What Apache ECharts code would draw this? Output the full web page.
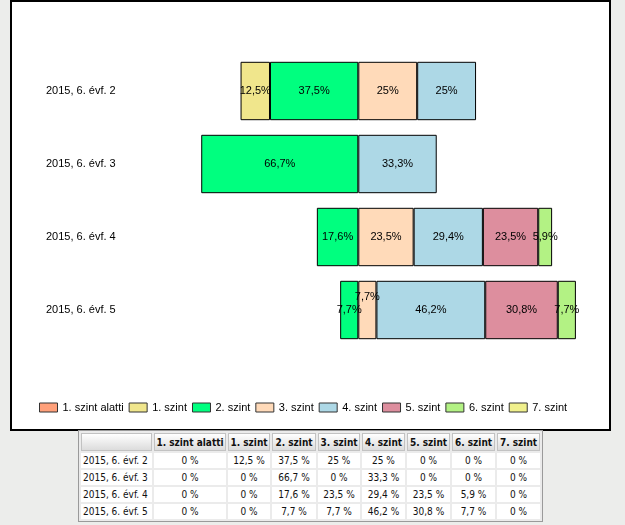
<!DOCTYPE html>
<html>
<head>
<meta charset="utf-8">
<script src="https://cdn.jsdelivr.net/npm/echarts@6/dist/echarts.min.js"></script>
<style>
body { margin: 0; background: #ecedeb; width: 625px; height: 525px; overflow: hidden; position: relative; }
#frame { position: absolute; left: 10px; top: 0; width: 597px; height: 427px; border: 2px solid #000; background: #fff; }
#container { width: 597px; height: 427px; }
#tbl {
    position: absolute; left: 78px; top: 430px;
    border: 1px solid #9a9a9a; background: #ebebeb;
    border-spacing: 2px; table-layout: fixed;
    font-family: "DejaVu Sans", sans-serif; font-stretch: condensed; font-size: 10px; color: #111;
}
#tbl th {
    height: 16px; padding: 0; border: 1px solid #c2c2c2;
    background: linear-gradient(#ffffff, #dcdcdc); font-weight: bold; white-space: nowrap;
}
#tbl td { height: 15px; padding: 0 2px; background: #fff; text-align: center; white-space: nowrap; }
#tbl td.cat { text-align: left; }
</style>
</head>
<body>
<div id="frame"><div id="container"></div></div>
<table id="tbl"></table>

<script>
// chart data
let categories = ['2015, 6. évf. 2', '2015, 6. évf. 3', '2015, 6. évf. 4', '2015, 6. évf. 5']
let levels = ['1. szint alatti', '1. szint', '2. szint', '3. szint', '4. szint', '5. szint', '6. szint', '7. szint']
let belowLevel1 = [0, 0, 0, 0]
let level1 = [12.5, 0, 0, 0]
let level2 = [37.5, 66.7, 17.6, 7.7]
let level3 = [25, 0, 23.5, 7.7]
let level4 = [25, 33.3, 29.4, 46.2]
let level5 = [0, 0, 23.5, 30.8]
let level6 = [0, 0, 5.9, 7.7]
let level7 = [0, 0, 0, 0]
let values = [belowLevel1, level1, level2, level3, level4, level5, level6, level7]
// the first three levels are drawn to the left of the centre line
let leftCount = 3

let colors = ['#ffa07a', '#f0e68c', '#00ff7f', '#ffdab9', '#add8e6', '#dd8e9e', '#b3f284', '#f0f08c']

const fmt = v => String(v).replace('.', ',')

// table under the chart
let html = '<colgroup><col style="width:71px">' +
    '<col style="width:72px"><col style="width:42px"><col style="width:44px"><col style="width:42px">' +
    '<col style="width:43px"><col style="width:43px"><col style="width:43px"><col style="width:43px"></colgroup>'
html += '<tr><th></th>' + levels.map(l => '<th>' + l + '</th>').join('') + '</tr>'
categories.forEach((c, i) => {
    html += '<tr><td class="cat">' + c + '</td>' + values.map(arr => '<td>' + fmt(arr[i]) + ' %</td>').join('') + '</tr>'
})
document.getElementById('tbl').innerHTML = html

// stack order: nearest to the centre first
let order = [2, 1, 0, 3, 4, 5, 6, 7]
let series = order.map(k => {
    return {
        name: levels[k],
        type: 'bar',
        stack: 'total',
        barCategoryGap: '20%',
        itemStyle: { color: colors[k], borderColor: '#000', borderWidth: 1 },
        label: {
            show: true,
            position: 'inside',
            color: '#000',
            fontSize: 11,
            fontFamily: 'Liberation Sans',
            formatter: p => p.value ? fmt(Math.abs(p.value)) + '%' : ''
        },
        emphasis: { disabled: true },
        data: values[k].map((v, i) => {
            if (!v) return '-'
            let item = { value: k < leftCount ? -v : v }
            // the small 3. szint label in the last row sits a little higher
            if (k === 3 && i === 3) item.label = { offset: [0, -13] }
            return item
        })
    }
})

let options = {
    animation: false,
    legend: {
        data: levels,
        left: 27,
        top: 400,
        padding: 0,
        icon: 'rect',
        itemWidth: 18,
        itemHeight: 9,
        itemGap: 5,
        itemStyle: { borderColor: '#333', borderWidth: 1 },
        textStyle: { fontSize: 11, color: '#000', fontFamily: 'Liberation Sans' }
    },
    grid: {
        left: 110.8,
        top: 52.5,
        width: 471,
        height: 292
    },
    xAxis: {
        type: 'value',
        min: -100,
        max: 100,
        show: false
    },
    yAxis: {
        type: 'category',
        data: categories,
        inverse: true,
        axisLine: { show: false },
        axisTick: { show: false },
        axisLabel: {
            align: 'left',
            margin: 76.8,
            color: '#000',
            fontSize: 11,
            fontFamily: 'Liberation Sans'
        }
    },
    series: series
}

let mychart = echarts.init(document.getElementById('container'))
mychart.setOption(options)
</script>
</body>
</html>
